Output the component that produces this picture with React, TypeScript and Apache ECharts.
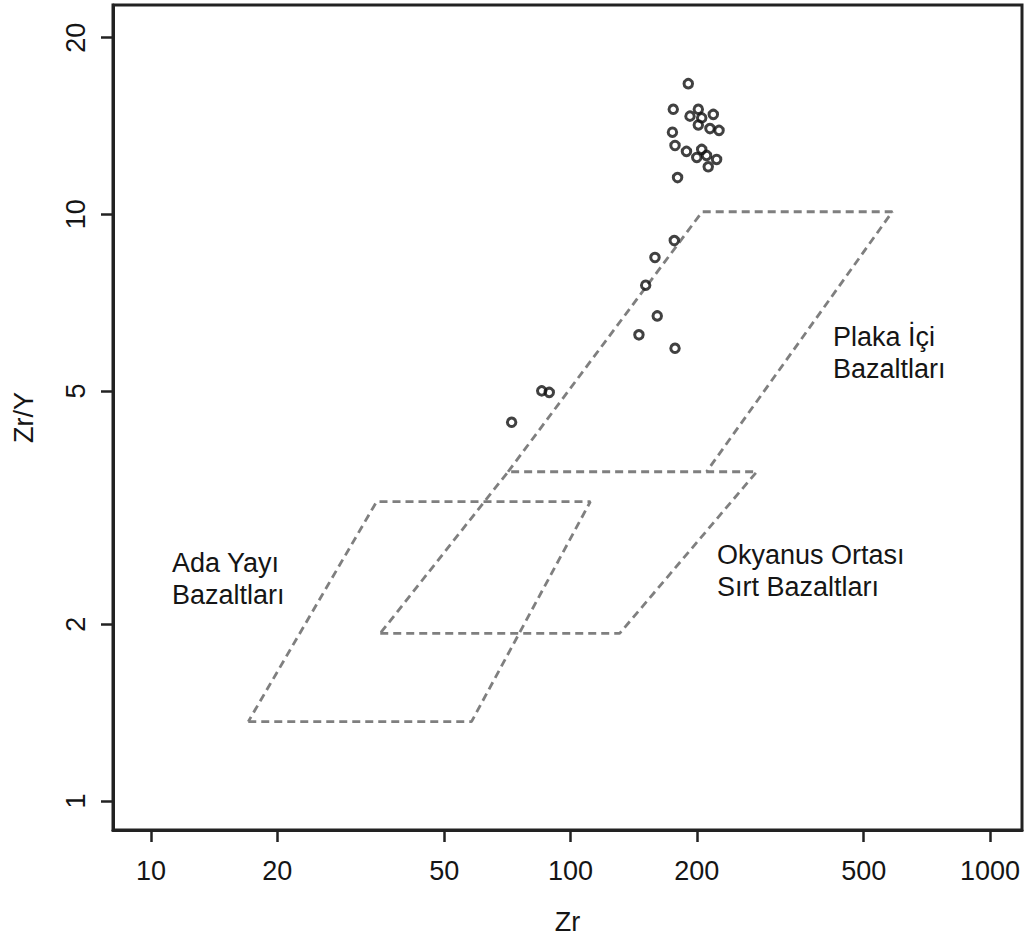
import React, { useEffect, useRef } from "react";
import * as echarts from "echarts";

// Zr (ppm) vs Zr/Y discrimination diagram, both axes logarithmic.
const xTicks = [10, 20, 50, 100, 200, 500, 1000];
const yTicks = [1, 2, 5, 10, 20];
const xRange = [8.12, 1192];
const yRange = [0.892, 22.74];

// Samples
const sampleZr = [
  190.9, 175.8, 201.7, 192.7, 205.5, 219, 201.7, 215, 226, 175, 177.5, 189,
  205.5, 200, 211, 223, 213, 180,
  176.8, 159, 151.1, 161, 145.6, 177.5, 85.4, 89, 72.4,
];
const sampleZrY = [
  16.7, 15.1, 15.1, 14.7, 14.6, 14.8, 14.2, 14.0, 13.9, 13.8, 13.1, 12.8,
  12.9, 12.5, 12.6, 12.4, 12.05, 11.55,
  9.02, 8.44, 7.57, 6.71, 6.23, 5.91, 5.0, 4.97, 4.42,
];

// Field boundaries
const iabZr = [17.06, 58.1, 111.5, 34.5, 17.06];
const iabZrY = [1.365, 1.365, 3.236, 3.236, 1.365];
const morbZr = [35.2, 131, 278, 71, 35.2];
const morbZrY = [1.93, 1.93, 3.64, 3.64, 1.93];
// within-plate field; its lower edge is shared with the MORB field
const wpbZr = [71, 206, 585, 211];
const wpbZrY = [3.64, 10.1, 10.1, 3.64];

const fieldNames = ["Ada Yayı\nBazaltları", "Okyanus Ortası\nSırt Bazaltları", "Plaka İçi\nBazaltları"];

const lg = (v: number) => Math.log10(v);
const pairs = (xs: number[], ys: number[]) => xs.map((x, i) => [lg(x), lg(ys[i])]);

const FONT = '"Liberation Sans", Arial, Helvetica, sans-serif';
const INK = "#151515";

function fieldSeries(name: string, xs: number[], ys: number[]) {
  return {
    name,
    type: "line",
    data: pairs(xs, ys),
    showSymbol: false,
    symbol: "none",
    silent: true,
    lineStyle: { color: "#7f7f7f", width: 2.8, type: [8, 5] },
    z: 2,
  };
}

export default function App() {
  const ref = useRef<HTMLDivElement>(null);

  useEffect(() => {
    if (!ref.current) return;
    const chart = echarts.init(ref.current, undefined, { renderer: "svg" });
    const fmt = (v: number) => String(Math.round(Math.pow(10, v)));
    const labelText = (t: string, left: number, top: number) => ({
      type: "text",
      left,
      top,
      silent: true,
      style: { text: t, font: `27px ${FONT}`, fill: INK, lineHeight: 32 },
    });

    chart.setOption({
      animation: false,
      backgroundColor: "#ffffff",
      grid: {
        left: 113,
        right: 13,
        top: 5,
        bottom: 112,
        show: true,
        borderColor: "#222222",
        borderWidth: 3,
      },
      xAxis: {
        type: "value",
        min: lg(xRange[0]),
        max: lg(xRange[1]),
        name: "Zr",
        nameLocation: "middle",
        nameGap: 78,
        nameTextStyle: { fontFamily: FONT, fontSize: 27, color: INK },
        splitLine: { show: false },
        axisLine: { show: true, onZero: false, lineStyle: { color: "#222222", width: 3 } },
        axisTick: {
          show: true,
          length: 12,
          customValues: xTicks.map(lg),
          lineStyle: { color: "#222222", width: 2.5 },
        },
        axisLabel: {
          customValues: xTicks.map(lg),
          formatter: fmt,
          margin: 27,
          fontFamily: FONT,
          fontSize: 27,
          color: INK,
        },
      },
      yAxis: {
        type: "value",
        min: lg(yRange[0]),
        max: lg(yRange[1]),
        name: "Zr/Y",
        nameLocation: "middle",
        nameRotate: 90,
        nameGap: 76,
        nameTextStyle: { fontFamily: FONT, fontSize: 27, color: INK },
        splitLine: { show: false },
        axisLine: { show: true, onZero: false, lineStyle: { color: "#222222", width: 3 } },
        axisTick: {
          show: true,
          length: 12,
          customValues: yTicks.map(lg),
          lineStyle: { color: "#222222", width: 2.5 },
        },
        axisLabel: {
          customValues: yTicks.map(lg),
          formatter: fmt,
          rotate: 90,
          margin: 24,
          fontFamily: FONT,
          fontSize: 27,
          color: INK,
        },
      },
      graphic: [
        labelText(fieldNames[0], 172, 547),
        labelText(fieldNames[1], 717, 539),
        labelText(fieldNames[2], 833, 321),
      ],
      series: [
        fieldSeries("iab", iabZr, iabZrY),
        fieldSeries("morb", morbZr, morbZrY),
        fieldSeries("wpb", wpbZr, wpbZrY),
        {
          name: "samples",
          type: "scatter",
          data: pairs(sampleZr, sampleZrY),
          symbol: "circle",
          symbolSize: 8.5,
          silent: true,
          itemStyle: { color: "rgba(255,255,255,0)", borderColor: "#111111", borderWidth: 3 },
          z: 5,
        },
      ],
    });
    return () => chart.dispose();
  }, []);

  return (
    <div
      ref={ref}
      style={{ position: "fixed", left: 0, top: 0, width: 1035, height: 942, background: "#fff" }}
    />
  );
}
